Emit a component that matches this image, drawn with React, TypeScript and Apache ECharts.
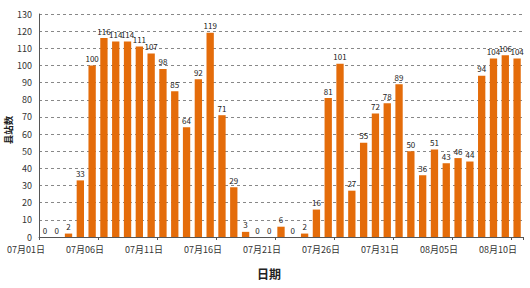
import React, { useEffect, useRef } from "react";
import * as echarts from "echarts";

const categories: string[] = [
  "07月01日", "07月02日", "07月03日", "07月04日", "07月05日", "07月06日", "07月07日", "07月08日",
  "07月09日", "07月10日", "07月11日", "07月12日", "07月13日", "07月14日", "07月15日", "07月16日",
  "07月17日", "07月18日", "07月19日", "07月20日", "07月21日", "07月22日", "07月23日", "07月24日",
  "07月25日", "07月26日", "07月27日", "07月28日", "07月29日", "07月30日", "07月31日", "08月01日",
  "08月02日", "08月03日", "08月04日", "08月05日", "08月06日", "08月07日", "08月08日", "08月09日",
  "08月10日",
];

const counts: number[] = [
  0, 0, 2, 33, 100, 116, 114, 114, 111, 107, 98, 85, 64, 92, 119, 71, 29, 3, 0, 0, 6,
  0, 2, 16, 81, 101, 27, 55, 72, 78, 89, 50, 36, 51, 43, 46, 44, 94, 104, 106, 104,
];

const yMin = 0;
const yMax = 130;
const yStep = 10;

const xTitle = "日期";
const yTitle = "县站数";

const FONT = "'Noto Sans CJK SC', 'Noto Sans', sans-serif";

export default function App() {
  const ref = useRef<HTMLDivElement>(null);
  useEffect(() => {
    if (!ref.current) return;
    const chart = echarts.init(ref.current, undefined, { renderer: "svg" });
    chart.setOption({
      animation: false,
      backgroundColor: "#ffffff",
      textStyle: { fontFamily: FONT },
      grid: { left: 39, right: 7, top: 14, bottom: 51, containLabel: false },
      graphic: [
        {
          type: "text",
          x: 269,
          y: 273,
          style: {
            text: xTitle,
            fontFamily: FONT,
            fontSize: 12,
            fontWeight: "bold",
            fill: "#222",
            align: "center",
            verticalAlign: "middle",
          },
        },
        {
          type: "text",
          x: 8,
          y: 130,
          rotation: Math.PI / 2,
          style: {
            text: yTitle,
            fontFamily: FONT,
            fontSize: 9.5,
            fontWeight: "bold",
            fill: "#222",
            align: "center",
            verticalAlign: "middle",
          },
        },
      ],
      xAxis: {
        type: "category",
        data: categories,
        axisLine: { show: true, lineStyle: { color: "#555", width: 1 } },
        axisTick: { show: true, interval: 4, length: 3, lineStyle: { color: "#555" } },
        axisLabel: {
          interval: 4,
          align: "right",
          margin: 8,
          fontSize: 9,
          color: "#333",
          fontFamily: FONT,
        },
        splitLine: { show: false },
      },
      yAxis: {
        type: "value",
        min: yMin,
        max: yMax,
        interval: yStep,
        axisLine: { show: true, lineStyle: { color: "#555", width: 1 } },
        axisTick: { show: false },
        axisLabel: { fontSize: 9, color: "#333", margin: 7, fontFamily: FONT },
        splitLine: { show: true, lineStyle: { color: "#888", type: [3, 3], width: 1 } },
      },
      series: [
        {
          type: "bar",
          data: counts,
          barCategoryGap: "38%",
          itemStyle: { color: "#E46C0A" },
          label: {
            show: true,
            position: "top",
            distance: 3,
            fontSize: 8,
            color: "#222",
            fontFamily: FONT,
          },
        },
      ],
    });
    return () => chart.dispose();
  }, []);
  return (
    <div
      ref={ref}
      style={{ position: "fixed", left: 0, top: 0, width: 530, height: 288, background: "#fff" }}
    />
  );
}
